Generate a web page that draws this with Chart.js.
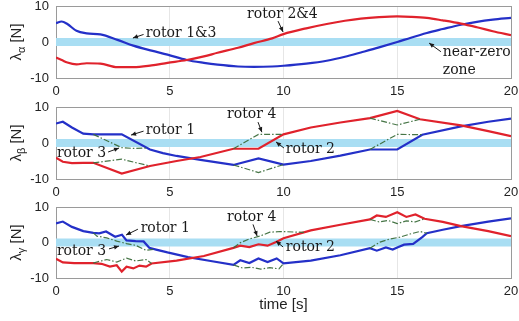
<!DOCTYPE html>
<html><head><meta charset="utf-8">
<script src="https://cdn.jsdelivr.net/npm/chart.js@4.4.1/dist/chart.umd.min.js"></script>
<style>
html,body{margin:0;padding:0;background:#fff;width:519px;height:321px;overflow:hidden}
canvas{position:absolute;left:0}
</style></head><body>
<canvas id="c1" width="519" height="100" style="top:0px"></canvas>
<canvas id="c2" width="519" height="100" style="top:100px"></canvas>
<canvas id="c3" width="519" height="121" style="top:200px"></canvas>
<script>
// ---------- data ----------
const xTicks = [0, 5, 10, 15, 20];
const yTicks = [-10, 0, 10];
const nearZero = [-1.1, 1.1];

// panel alpha
const alphaT = [0,0.25,0.5,0.9,1.35,1.95,2.7,3.4,4.2,4.9,5.75,6.5,7.1,8,8.7,9.5,10,11,11.9,12.7,13.4,14.2,15,15.6,16.3,17,17.8,18.5,19.2,20];
const alphaRotor13 = [5.2,5.7,5.0,3.1,2.4,2.1,0.6,-1.0,-2.4,-3.5,-5.0,-5.8,-6.3,-6.8,-6.9,-6.8,-6.6,-6.0,-5.2,-4.1,-2.9,-1.5,0,1.2,2.5,3.6,4.8,5.6,6.2,6.7];
const alphaRotor24 = [-4.3,-5.0,-5.7,-6.2,-5.9,-6.0,-7.0,-7.0,-6.5,-5.8,-5.0,-4.0,-3.0,-1.6,-0.3,1.0,2.2,3.8,5.0,5.9,6.5,6.9,7.1,7.0,6.7,6.0,5.1,4.1,3.0,1.9];

// panel beta
const betaRotor1T = [0,0.3,0.7,1.2,1.64,2.89,4.13,4.7,5.3,6.35,7.8,8.9,10,11.2,12.5,13.8,15,16.1,17.8,19,20];
const betaRotor1  = [5.4,5.9,4.3,2.6,2.4,2.4,-1.8,-2.8,-3.6,-4.7,-6.1,-4.3,-6.0,-5.0,-3.5,-1.8,-1.8,2.3,4.6,5.9,6.8];
const betaRotor2T = [0,0.3,0.7,1.2,1.64,2.89,4.13,5.3,6.35,7.8,8.9,10,11.2,12.5,13.8,15,16,17.8,19,20];
const betaRotor2  = [-4.1,-5.2,-5.6,-5.5,-5.5,-8.5,-6.4,-5.0,-3.9,-1.6,-1.6,2.4,4.3,5.7,6.9,8.9,6.6,4.9,3.3,1.9];
const betaRotor3T = [1.64,2.89,3.4,4.0,4.01,7.8,8.9,10,10.01,13.8,15,16.1];
const betaRotor3  = [2.4,-1.3,-1.5,-1.4,null,-6.1,-8.2,-6.0,null,-1.8,2.4,2.3];
const betaRotor4T = [1.64,2.89,4.13,4.14,7.8,8.9,10,10.01,13.8,15,16];
const betaRotor4  = [-5.5,-4.5,-6.4,null,-1.6,2.4,2.4,null,6.9,5.0,6.6];

// panel gamma
const gammaRotor1T = [0,0.3,0.7,1.2,1.64,1.9,2.2,2.6,2.9,3.1,3.5,3.85,4.1,4.4,4.9,5.8,6.8,7.8,8.1,8.5,8.9,9.3,9.7,10,11.2,12.5,13.8,14.1,14.5,14.8,15,15.3,15.7,16.1,16.3,17,17.8,19,20];
const gammaRotor1  = [5.4,5.9,4.4,3.2,2.7,2.6,3.1,1.6,2.2,0.6,0.4,0.3,-1.5,-2.0,-2.8,-4.1,-5.2,-6.3,-5.0,-5.8,-4.5,-5.5,-4.5,-5.9,-5.1,-3.6,-1.6,-2.3,-1.4,-2.0,-1.4,-0.6,-0.4,1.5,2.6,3.6,4.6,5.9,6.8];
const gammaRotor2T = [0,0.3,0.8,1.64,2.0,2.37,2.67,2.89,3.1,3.4,3.67,3.96,4.2,5.3,6.5,7.8,8.1,8.5,8.9,9.3,9.7,10,11.2,12.5,13.8,14.1,14.5,15,15.4,15.8,16.2,17,17.8,19,20];
const gammaRotor2  = [-4.6,-5.6,-5.8,-5.8,-6.0,-6.8,-6.4,-8.2,-6.8,-7.3,-6.5,-6.8,-5.9,-5.1,-3.8,-1.5,-0.9,-1.3,-0.5,-0.9,0.2,1.2,3.4,5.0,6.5,7.6,7.2,8.5,7.2,7.9,6.7,5.8,4.6,3.2,1.8];
const gammaRotor3T = [1.64,1.8,2.23,2.67,3.1,3.5,3.96,4.3,4.31,7.8,8.2,8.6,9.0,9.4,9.8,10,10.01,13.8,14.24,14.68,15.12,15.56,16.0,16.3];
const gammaRotor3  = [2.7,1.8,1.3,0.4,-0.3,-0.8,-2.2,-1.9,null,-6.3,-7.2,-7.0,-7.5,-7.1,-7.4,-5.9,null,-1.6,0.1,1.0,1.5,2.4,3.1,2.6];
const gammaRotor4T = [1.64,1.79,2.23,2.67,3.1,3.5,3.96,4.2,4.21,7.8,8.09,8.5,8.96,9.4,9.85,10.9,10.91,13.8,14.2,14.6,15.0,15.4,15.8,16.2];
const gammaRotor4  = [-5.8,-5.5,-4.8,-5.5,-4.4,-5.2,-4.8,-5.9,null,-1.5,-0.1,1.0,1.8,2.9,3.1,2.85,null,6.5,5.8,6.2,5.3,6.1,5.8,6.7];

// ---------- styling / helpers ----------
const BLUE = '#2430c8', RED = '#e0222c', DASH = 'rgba(60,110,60,0.95)', BAND = '#a9def3';
const EDGE = '#9a9a9a', GRID = '#e6e6e6', TXT = '#222';
const pts = (t, v) => t.map((x, i) => ({x, y: v[i]}));

const annotPlugin = {
  id: 'annot',
  afterDraw(chart, args, opts) {
    const {ctx, chartArea, scales: {x, y}} = chart;
    ctx.save();
    const cy = (chartArea.top + chartArea.bottom) / 2;
    ctx.translate(17, cy);
    ctx.rotate(-Math.PI / 2);
    ctx.fillStyle = TXT;
    ctx.textBaseline = 'middle';
    ctx.textAlign = 'left';
    const f1 = '15px "Liberation Sans"', f2 = '11px "Liberation Sans"';
    ctx.font = f1; const w1 = ctx.measureText('λ').width; const w3 = ctx.measureText(' [N]').width;
    ctx.font = f2; const w2 = ctx.measureText(opts.sub).width;
    const sx = -(w1 + w2 + w3) / 2;
    ctx.font = f1; ctx.fillText('λ', sx, 0);
    ctx.font = f2; ctx.fillText(opts.sub, sx + w1, 4.5);
    ctx.font = f1; ctx.fillText(' [N]', sx + w1 + w2, 0);
    ctx.restore();

    ctx.save();
    ctx.font = '14px "DejaVu Serif"';
    ctx.fillStyle = '#1a1a1a';
    ctx.strokeStyle = '#1a1a1a';
    ctx.textBaseline = 'middle';
    ctx.textAlign = 'left';
    for (const a of opts.items) {
      ctx.fillText(a.text, x.getPixelForValue(a.at[0]), y.getPixelForValue(a.at[1]));
      if (a.from) {
        const x1 = x.getPixelForValue(a.from[0]), y1 = y.getPixelForValue(a.from[1]);
        const x2 = x.getPixelForValue(a.to[0]), y2 = y.getPixelForValue(a.to[1]);
        const ang = Math.atan2(y2 - y1, x2 - x1);
        ctx.lineWidth = 1;
        ctx.beginPath(); ctx.moveTo(x1, y1); ctx.lineTo(x2, y2); ctx.stroke();
        ctx.beginPath();
        ctx.moveTo(x2, y2);
        ctx.lineTo(x2 - 5 * Math.cos(ang) + 2.2 * Math.sin(ang), y2 - 5 * Math.sin(ang) - 2.2 * Math.cos(ang));
        ctx.lineTo(x2 - 5 * Math.cos(ang) - 2.2 * Math.sin(ang), y2 - 5 * Math.sin(ang) + 2.2 * Math.cos(ang));
        ctx.closePath(); ctx.fill();
      }
    }
    ctx.restore();
  }
};

function lineDS(data, color, opts = {}) {
  return Object.assign({data, borderColor: color, borderWidth: 2.2, pointRadius: 0, fill: false, tension: 0, spanGaps: false}, opts);
}
function bandDS() {
  return [
    {data: [{x: xTicks[0], y: nearZero[1]}, {x: xTicks[xTicks.length - 1], y: nearZero[1]}], borderWidth: 0, pointRadius: 0, fill: '+1', backgroundColor: BAND},
    {data: [{x: xTicks[0], y: nearZero[0]}, {x: xTicks[xTicks.length - 1], y: nearZero[0]}], borderWidth: 0, pointRadius: 0, fill: false}
  ];
}

function makeChart(id, datasets, sub, items, padTop, xHeight, withTitle) {
  new Chart(document.getElementById(id), {
    type: 'line',
    data: {datasets},
    plugins: [annotPlugin],
    options: {
      responsive: false, animation: false, devicePixelRatio: 1,
      layout: {padding: {left: 0, right: 8, top: padTop, bottom: 0}},
      plugins: {legend: {display: false}, tooltip: {enabled: false}, annot: {sub, items}},
      scales: {
        x: {
          type: 'linear', min: xTicks[0], max: xTicks[xTicks.length - 1],
          afterBuildTicks: s => { s.ticks = xTicks.map(v => ({value: v})); },
          afterFit: s => { s.height = xHeight; s.paddingLeft = 0; s.paddingRight = 0; },
          ticks: {padding: 6, color: TXT, font: {family: 'Liberation Sans', size: 13}, maxRotation: 0, autoSkip: false},
          grid: {drawTicks: false, color: c => (c.tick && (c.tick.value === xTicks[0] || c.tick.value === xTicks[xTicks.length - 1])) ? EDGE : GRID},
          border: {display: true, color: EDGE},
          title: {display: withTitle, text: 'time [s]', color: TXT, font: {family: 'Liberation Sans', size: 15}, padding: {top: 0, bottom: 7}}
        },
        y: {
          type: 'linear', min: yTicks[0], max: yTicks[yTicks.length - 1],
          afterBuildTicks: s => { s.ticks = yTicks.map(v => ({value: v})); },
          afterFit: s => { s.width = 56; s.paddingTop = 0; s.paddingBottom = 0; },
          ticks: {padding: 7, color: TXT, font: {family: 'Liberation Sans', size: 13}},
          grid: {drawTicks: false, color: c => (c.tick && (c.tick.value === yTicks[0] || c.tick.value === yTicks[yTicks.length - 1])) ? EDGE : GRID},
          border: {display: true, color: EDGE}
        }
      }
    }
  });
}

makeChart('c1', [
  lineDS(pts(alphaT, alphaRotor24), RED, {cubicInterpolationMode: 'monotone'}),
  lineDS(pts(alphaT, alphaRotor13), BLUE, {cubicInterpolationMode: 'monotone'}),
  ...bandDS()
], 'α', [
  {text: 'rotor 1&3', at: [3.95, 2.4], from: [3.85, 2.1], to: [3.38, 1.1]},
  {text: 'rotor 2&4', at: [8.4, 7.8], from: [9.76, 5.8], to: [9.98, 2.8]},
  {text: 'near-zero', at: [17.0, -2.9], from: [16.92, -2.7], to: [16.4, -0.3]},
  {text: 'zone', at: [17.0, -7.8]}
], 6, 22, false);

makeChart('c2', [
  lineDS(pts(betaRotor3T, betaRotor3), DASH, {borderWidth: 1.2, borderDash: [6, 2, 1.5, 2]}),
  lineDS(pts(betaRotor4T, betaRotor4), DASH, {borderWidth: 1.2, borderDash: [6, 2, 1.5, 2]}),
  lineDS(pts(betaRotor2T, betaRotor2), RED),
  lineDS(pts(betaRotor1T, betaRotor1), BLUE),
  ...bandDS()
], 'β', [
  {text: 'rotor 1', at: [3.95, 3.6], from: [3.85, 3.3], to: [3.3, 2.2]},
  {text: 'rotor 3', at: [0.04, -2.8], from: [2.29, -2.5], to: [2.77, -1.4]},
  {text: 'rotor 4', at: [7.52, 8.0], from: [8.88, 5.8], to: [9.05, 3.0]},
  {text: 'rotor 2', at: [10.1, -1.7], from: [10.02, -1.4], to: [9.67, 0.3]}
], 7, 21, false);

makeChart('c3', [
  lineDS(pts(gammaRotor3T, gammaRotor3), DASH, {borderWidth: 1.2, borderDash: [6, 2, 1.5, 2]}),
  lineDS(pts(gammaRotor4T, gammaRotor4), DASH, {borderWidth: 1.2, borderDash: [6, 2, 1.5, 2]}),
  lineDS(pts(gammaRotor2T, gammaRotor2), RED),
  lineDS(pts(gammaRotor1T, gammaRotor1), BLUE),
  ...bandDS()
], 'γ', [
  {text: 'rotor 1', at: [3.72, 4.0], from: [3.6, 3.75], to: [3.08, 2.1]},
  {text: 'rotor 3', at: [0.04, -2.6], from: [2.33, -1.8], to: [2.77, -1.0]},
  {text: 'rotor 4', at: [7.52, 7.1], from: [8.66, 5.1], to: [8.84, 1.8]},
  {text: 'rotor 2', at: [10.1, -1.5], from: [9.98, -1.25], to: [9.67, 0.4]}
], 7, 43, true);
</script>
</body></html>
